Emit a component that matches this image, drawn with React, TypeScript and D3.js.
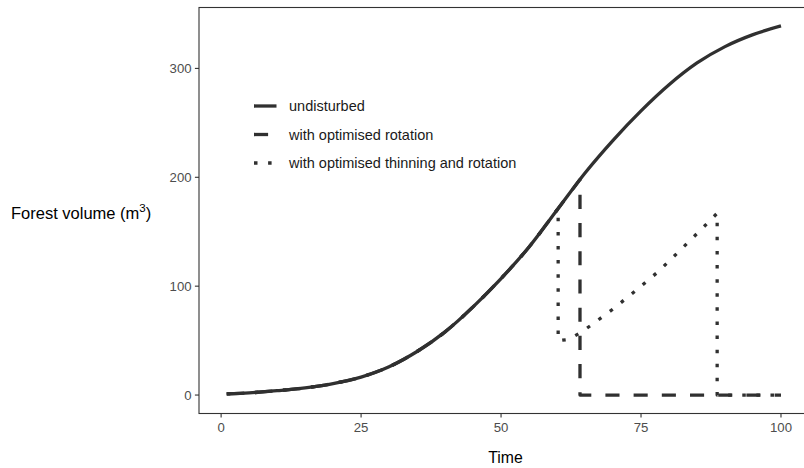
import React from "react";
import * as d3 from "d3";

// ---- data ----
const years = [1, 5, 10, 15, 20, 25, 30, 35, 40, 45, 50, 55, 60, 65, 70, 75, 80, 85, 90, 95, 100];
const undisturbedVolume = [1, 2, 4, 6.5, 10.5, 16.5, 26, 40, 58, 81, 107, 136, 170, 204, 234, 261, 285, 305, 320, 331, 339];

// with optimised rotation: follows growth until harvest, then clear-cut
const rotationHarvestYear = 64.1;
const rotationHarvestVolume = 198;
const rotationAfterTime = [64.1, 64.1, 100];
const rotationAfterVolume = [198, 0, 0];

// with optimised thinning and rotation
const thinningYear = 60.2;
const thinningStandingVolume = 171.4;
const thinningAfterTime = [60.2, 60.2, 62, 64, 66, 70, 74, 78, 82, 86, 88.6, 88.6, 100];
const thinningAfterVolume = [171.4, 50, 51, 56.7, 63.8, 79, 95.7, 113, 133, 153.4, 167, 0, 0];

const xTicks = [0, 25, 50, 75, 100];
const yTicks = [0, 100, 200, 300];

const legendLabels = ["undisturbed", "with optimised rotation", "with optimised thinning and rotation"];

const W = 804;
const H = 468;
const LW = 3.3;
const DASHES = ["none", "14.1,14.1", "3.5,10.6"];
const LINE_COLOR = "#303030";
const FONT = "'Liberation Sans', Arial, Helvetica, sans-serif";

export default function App() {
  const xExt = d3.extent(years) as [number, number];
  const xPad = (xExt[1] - xExt[0]) * 0.05;
  const yMax = d3.max(undisturbedVolume) as number;
  const yPad = yMax * 0.05;

  const panel = { left: 199, top: 7.5, bottom: 413.5 };
  const x = d3.scaleLinear().domain([xExt[0] - xPad, xExt[1] + xPad]).range([panel.left, 808.7]);
  const y = d3.scaleLinear().domain([0 - yPad, yMax + yPad]).range([panel.bottom, panel.top]);

  const smooth = d3
    .line<[number, number]>()
    .x((d) => x(d[0]))
    .y((d) => y(d[1]))
    .curve(d3.curveMonotoneX);
  const straight = d3
    .line<[number, number]>()
    .x((d) => x(d[0]))
    .y((d) => y(d[1]));

  const growth: [number, number][] = years.map((t, i) => [t, undisturbedVolume[i]]);

  const buildPath = (harvestYear: number, harvestVol: number, afterT: number[], afterV: number[]) => {
    const pre: [number, number][] = growth.filter((d) => d[0] < harvestYear);
    pre.push([harvestYear, harvestVol]);
    const post: [number, number][] = afterT.map((t, i) => [t, afterV[i]]);
    const a = smooth(pre) || "";
    const b = (straight(post) || "").replace(/^M/, "L");
    return a + b;
  };

  const paths = [
    smooth(growth) || "",
    buildPath(rotationHarvestYear, rotationHarvestVolume, rotationAfterTime, rotationAfterVolume),
    buildPath(thinningYear, thinningStandingVolume, thinningAfterTime, thinningAfterVolume),
  ];

  const tickLen = 4.1;
  const axisColor = "#333333";
  const tickTextColor = "#4D4D4D";

  const legendX = 254;
  const legendKeyW = 22.5;
  const legendY = [106, 134.5, 163];

  return (
    <svg
      width={W}
      height={H}
      style={{ position: "absolute", left: 0, top: 0, display: "block", background: "#fff" }}
      fontFamily={FONT}
    >
      <rect x={0} y={0} width={W} height={H} fill="#fff" />
      {/* data lines */}
      {paths.map((d, i) => (
        <path
          key={i}
          d={d}
          fill="none"
          stroke={LINE_COLOR}
          strokeWidth={LW}
          strokeDasharray={DASHES[i]}
          strokeLinecap="butt"
          strokeLinejoin="round"
        />
      ))}

      {/* panel border */}
      <rect
        x={panel.left}
        y={panel.top}
        width={x.range()[1] - panel.left}
        height={panel.bottom - panel.top}
        fill="none"
        stroke={axisColor}
        strokeWidth={1.1}
      />

      {/* y axis */}
      {yTicks.map((v) => (
        <g key={"y" + v}>
          <line x1={panel.left - tickLen} x2={panel.left} y1={y(v)} y2={y(v)} stroke={axisColor} strokeWidth={1.1} />
          <text x={panel.left - tickLen - 3.3} y={y(v) + 4.8} textAnchor="end" fontSize={13.2} fill={tickTextColor}>
            {v}
          </text>
        </g>
      ))}

      {/* x axis */}
      {xTicks.map((v) => (
        <g key={"x" + v}>
          <line x1={x(v)} x2={x(v)} y1={panel.bottom} y2={panel.bottom + tickLen} stroke={axisColor} strokeWidth={1.1} />
          <text x={x(v)} y={431.5} textAnchor="middle" fontSize={13.2} fill={tickTextColor}>
            {v}
          </text>
        </g>
      ))}

      {/* axis titles */}
      <text x={505.5} y={463.4} textAnchor="middle" fontSize={15.8} fill="#000">
        Time
      </text>
      <text x={11} y={219} fontSize={16.5} fill="#000">
        Forest volume (m
        <tspan fontSize={11.5} dy={-7}>
          3
        </tspan>
        <tspan dy={7}>)</tspan>
      </text>

      {/* legend */}
      {legendLabels.map((lab, i) => (
        <g key={lab}>
          <line
            x1={legendX}
            x2={legendX + legendKeyW}
            y1={legendY[i]}
            y2={legendY[i]}
            stroke={LINE_COLOR}
            strokeWidth={LW}
            strokeDasharray={DASHES[i]}
          />
          <text x={289} y={legendY[i] + 5.1} fontSize={14.5} fill="#1a1a1a">
            {lab}
          </text>
        </g>
      ))}
    </svg>
  );
}
